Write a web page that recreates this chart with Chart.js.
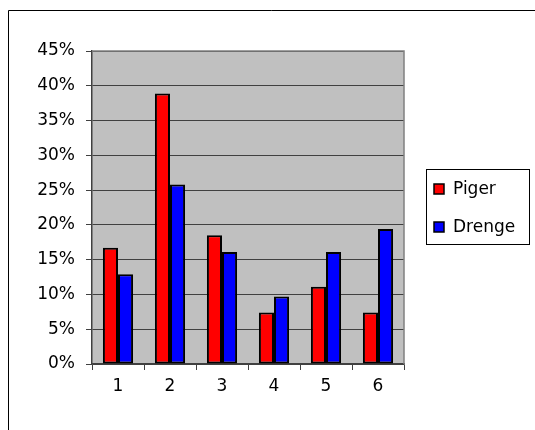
<!DOCTYPE html>
<html>
<head>
<meta charset="utf-8">
<script src="https://cdn.jsdelivr.net/npm/chart.js@4/dist/chart.umd.min.js"></script>
<style>
html,body{margin:0;padding:0;background:#fff;}
#wrap{width:535px;height:430px;position:relative;}
</style>
</head>
<body>
<div id="wrap"><canvas id="c" width="535" height="430"></canvas></div>
<script>
const categories = ['1','2','3','4','5','6'];
const piger = [16.7, 38.9, 18.5, 7.4, 11.1, 7.4];
const drenge = [12.9, 25.8, 16.1, 9.7, 16.1, 19.4];
const seriesNames = ['Piger', 'Drenge'];
const seriesColors = ['#ff0000', '#0000ff'];
const yTickValues = [0, 5, 10, 15, 20, 25, 30, 35, 40, 45];

const FONT = 'DejaVu Sans';

const decor = {
  id: 'decor',
  beforeDraw(chart) {
    const {ctx, chartArea: a} = chart;
    ctx.save();
    ctx.fillStyle = '#c0c0c0';
    ctx.fillRect(a.left, a.top, a.right - a.left, a.bottom - a.top);
    ctx.strokeStyle = '#000';
    ctx.lineWidth = 1;
    ctx.beginPath();
    ctx.moveTo(8.5, 430);
    ctx.lineTo(8.5, 10.5);
    ctx.lineTo(535, 10.5);
    ctx.stroke();
    ctx.restore();
  },
  afterDatasetsDraw(chart) {
    const {ctx, chartArea: a} = chart;
    ctx.save();
    ctx.strokeStyle = '#808080';
    ctx.lineWidth = 1.5;
    ctx.beginPath();
    ctx.moveTo(a.left, a.top);
    ctx.lineTo(a.right, a.top);
    ctx.lineTo(a.right, a.bottom);
    ctx.stroke();
    ctx.strokeStyle = '#000';
    ctx.lineWidth = 1;
    ctx.strokeRect(426.5, 169.5, 103, 75);
    const ys = [189, 227];
    ctx.font = '17px "' + FONT + '"';
    ctx.textBaseline = 'middle';
    ctx.textAlign = 'left';
    chart.data.datasets.forEach((ds, i) => {
      ctx.fillStyle = ds.backgroundColor;
      ctx.fillRect(434, ys[i] - 5, 10, 10);
      ctx.strokeStyle = '#000';
      ctx.lineWidth = 1.5;
      ctx.strokeRect(434, ys[i] - 5, 10, 10);
      ctx.fillStyle = '#000';
      ctx.fillText(ds.label, 453, ys[i] + 1);
    });
    ctx.restore();
  }
};

new Chart(document.getElementById('c'), {
  type: 'bar',
  data: {
    labels: categories,
    datasets: [
      {label: seriesNames[0], data: piger, backgroundColor: seriesColors[0], borderColor: '#000', borderWidth: 2, borderSkipped: false},
      {label: seriesNames[1], data: drenge, backgroundColor: seriesColors[1], borderColor: '#000', borderWidth: 2, borderSkipped: false}
    ]
  },
  options: {
    responsive: false,
    animation: false,
    devicePixelRatio: 1,
    layout: {padding: {left: 0, right: 131, top: 51, bottom: 0}},
    plugins: {legend: {display: false}, tooltip: {enabled: false}},
    datasets: {bar: {categoryPercentage: 0.58, barPercentage: 1.0}},
    scales: {
      x: {
        offset: true,
        grid: {offset: true, drawOnChartArea: false, drawTicks: true, tickLength: 6, color: '#404040', lineWidth: 1},
        border: {display: true, color: '#404040', width: 1.5},
        ticks: {color: '#000', font: {family: FONT, size: 17}, padding: 6},
        afterFit(s) { s.height = 66; }
      },
      y: {
        min: 0, max: 45,
        afterBuildTicks(s) { s.ticks = yTickValues.map(v => ({value: v})); },
        grid: {color: '#404040', lineWidth: 1, tickLength: 6, drawTicks: true},
        border: {display: true, color: '#404040', width: 1.5},
        ticks: {color: '#000', font: {family: FONT, size: 17}, padding: 11, callback: v => v + '%'},
        afterFit(s) { s.width = 92; }
      }
    }
  },
  plugins: [decor]
});
</script>
</body>
</html>
